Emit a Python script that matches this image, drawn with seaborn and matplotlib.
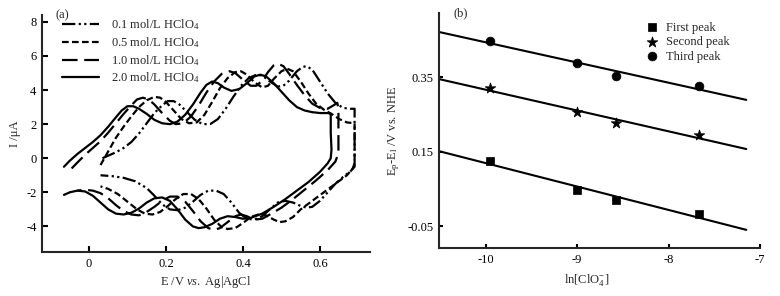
import numpy as np
import pandas as pd
import matplotlib
matplotlib.use("Agg")
import matplotlib.pyplot as plt
import seaborn as sns

# ---------------- data: panel (a) cyclic voltammograms ----------------
conc_labels = ["0.1 mol/L HClO$_4$", "0.5 mol/L HClO$_4$",
               "1.0 mol/L HClO$_4$", "2.0 mol/L HClO$_4$"]

# 0.1 mol/L (dash-dot-dot)
e_01 = [0.035, 0.05, 0.07, 0.09, 0.11, 0.13, 0.15, 0.17, 0.19, 0.205, 0.22, 0.235, 0.255, 0.275, 0.295,
        0.315, 0.335, 0.355, 0.375, 0.395, 0.415, 0.435, 0.45, 0.47, 0.49, 0.505, 0.52, 0.54, 0.555, 0.565,
        0.58, 0.60, 0.62, 0.64, 0.66, 0.68, 0.69, 0.69, 0.69, 0.69,
        0.68, 0.66, 0.64, 0.62, 0.60, 0.58, 0.565, 0.55, 0.53, 0.51, 0.49, 0.47, 0.45, 0.43, 0.41, 0.39,
        0.37, 0.35, 0.33, 0.31, 0.29, 0.27, 0.25, 0.23, 0.21, 0.19, 0.17, 0.15, 0.12, 0.09, 0.06, 0.03]
i_01 = [0.0, 0.15, 0.35, 0.6, 0.95, 1.45, 2.05, 2.65, 3.1, 3.35, 3.35, 3.15, 2.7, 2.25, 2.0,
        2.0, 2.3, 2.9, 3.6, 4.25, 4.7, 4.9, 4.85, 4.5, 4.2, 4.25, 4.55, 5.1, 5.35, 5.4,
        5.2, 4.5, 3.8, 3.25, 2.95, 2.9, 2.9, 1.5, 0.0, -0.5,
        -0.75, -1.1, -1.5, -2.0, -2.5, -2.85, -2.9, -2.8, -2.6, -2.5, -2.6, -3.0, -3.4, -3.6, -3.55, -3.2,
        -2.6, -2.1, -1.9, -1.9, -2.15, -2.55, -2.9, -3.05, -3.0, -2.7, -2.2, -1.75, -1.35, -1.15, -1.05, -1.0]

# 0.5 mol/L (short dashes)
e_05 = [0.03, 0.04, 0.055, 0.07, 0.09, 0.11, 0.13, 0.15, 0.17, 0.185, 0.20, 0.22, 0.24, 0.26, 0.28,
        0.30, 0.32, 0.34, 0.36, 0.38, 0.395, 0.41, 0.43, 0.45, 0.465, 0.48, 0.50, 0.515, 0.53, 0.55,
        0.57, 0.59, 0.61, 0.63, 0.65, 0.67, 0.69, 0.69, 0.69,
        0.685, 0.67, 0.64, 0.61, 0.58, 0.55, 0.53, 0.51, 0.495, 0.48, 0.46, 0.44, 0.42, 0.40, 0.38, 0.36,
        0.345, 0.325, 0.305, 0.285, 0.265, 0.245, 0.225, 0.205, 0.185, 0.165, 0.145, 0.125, 0.10, 0.075,
        0.05, 0.03]
i_05 = [-0.4, 0.0, 0.6, 1.2, 1.85, 2.45, 3.0, 3.4, 3.6, 3.55, 3.3, 2.8, 2.3, 2.05, 2.1,
        2.55, 3.3, 4.1, 4.7, 5.05, 5.1, 4.9, 4.45, 4.15, 4.25, 4.65, 5.1, 5.25, 5.1, 4.5,
        3.8, 3.2, 2.85, 2.6, 2.3, 2.1, 2.05, 1.0, -0.3,
        -0.6, -1.0, -1.5, -2.0, -2.5, -3.0, -3.45, -3.7, -3.75, -3.6, -3.35, -3.3, -3.45, -3.8, -4.1, -4.15,
        -4.05, -3.6, -2.95, -2.4, -2.1, -2.1, -2.4, -2.8, -3.15, -3.3, -3.25, -3.0, -2.55, -2.1,
        -1.8, -1.65]

# 1.0 mol/L (long dashes)
e_10 = [-0.045, -0.03, -0.01, 0.01, 0.03, 0.05, 0.07, 0.09, 0.11, 0.125, 0.14, 0.155, 0.17, 0.19, 0.21,
        0.225, 0.245, 0.265, 0.285, 0.305, 0.325, 0.345, 0.365, 0.38, 0.40, 0.42, 0.435, 0.45, 0.465,
        0.48, 0.49, 0.505, 0.52, 0.54, 0.56, 0.58, 0.60, 0.62, 0.635, 0.645, 0.648, 0.648, 0.648,
        0.64, 0.62, 0.59, 0.56, 0.53, 0.50, 0.47, 0.45, 0.43, 0.41, 0.395, 0.38, 0.36, 0.34, 0.325, 0.31,
        0.29, 0.27, 0.25, 0.23, 0.21, 0.19, 0.17, 0.15, 0.13, 0.11, 0.09, 0.07, 0.05, 0.03, 0.01, -0.01,
        -0.03]
i_10 = [-0.6, -0.25, 0.2, 0.6, 1.0, 1.5, 2.05, 2.6, 3.1, 3.45, 3.55, 3.45, 3.15, 2.65, 2.2,
        2.0, 2.05, 2.45, 3.1, 3.85, 4.5, 4.95, 5.1, 5.0, 4.6, 4.25, 4.25, 4.55, 5.05,
        5.45, 5.55, 5.4, 4.95, 4.3, 3.7, 3.2, 2.95, 2.9, 3.1, 3.25, 2.9, 1.5, 0.3,
        -0.2, -0.7, -1.3, -1.85, -2.4, -2.9, -3.3, -3.55, -3.6, -3.4, -3.3, -3.4, -3.75, -4.1, -4.2, -4.1,
        -3.7, -3.1, -2.55, -2.25, -2.25, -2.5, -2.85, -3.15, -3.35, -3.3, -3.1, -2.75, -2.35, -2.05, -1.9,
        -1.85, -1.9]

# 2.0 mol/L (solid)
e_20 = [-0.065, -0.05, -0.03, -0.01, 0.01, 0.03, 0.05, 0.07, 0.085, 0.10, 0.115, 0.13, 0.15, 0.17, 0.19,
        0.21, 0.23, 0.25, 0.27, 0.29, 0.305, 0.32, 0.335, 0.35, 0.37, 0.39, 0.41, 0.43, 0.445, 0.46,
        0.48, 0.50, 0.52, 0.54, 0.56, 0.58, 0.60, 0.62, 0.628, 0.628, 0.63, 0.628,
        0.62, 0.60, 0.57, 0.54, 0.51, 0.48, 0.45, 0.42, 0.40, 0.38, 0.36, 0.34, 0.32, 0.30, 0.285, 0.27,
        0.25, 0.23, 0.21, 0.19, 0.17, 0.15, 0.13, 0.11, 0.09, 0.07, 0.05, 0.03, 0.01, -0.01, -0.03, -0.05,
        -0.065]
i_20 = [-0.5, -0.15, 0.25, 0.6, 0.95, 1.35, 1.85, 2.4, 2.8, 3.05, 3.05, 2.9, 2.6, 2.25, 2.05,
        2.0, 2.15, 2.55, 3.15, 3.85, 4.3, 4.5, 4.4, 4.15, 3.95, 4.05, 4.4, 4.8, 4.9, 4.8,
        4.4, 3.9, 3.4, 3.0, 2.8, 2.7, 2.65, 2.65, 2.6, 1.5, 0.5, 0.0,
        -0.3, -0.8, -1.4, -1.9, -2.4, -2.85, -3.25, -3.5, -3.55, -3.45, -3.4, -3.55, -3.85, -4.05, -4.1, -4.0,
        -3.6, -3.0, -2.5, -2.3, -2.35, -2.6, -2.95, -3.2, -3.3, -3.25, -3.0, -2.6, -2.2, -1.95, -1.9, -2.0,
        -2.15]

# ---------------- data: panel (b) ----------------
ln_clo4 = [-9.95, -9.0, -8.58, -7.67]
first_peak = [0.124, 0.048, 0.021, -0.019]
second_peak = [0.320, 0.256, 0.226, 0.194]
third_peak = [0.447, 0.388, 0.352, 0.326]
peak_names = ["First peak", "Second peak", "Third peak"]
fit_range = [-10.5, -7.15]

# ---------------- style ----------------
sns.set_theme(style="ticks")
plt.rcParams["font.family"] = ["Liberation Serif", "DejaVu Serif"]
plt.rcParams["mathtext.fontset"] = "custom"
plt.rcParams["mathtext.rm"] = "Liberation Serif"
plt.rcParams["mathtext.it"] = "Liberation Serif:italic"
plt.rcParams["font.size"] = 9
plt.rcParams["axes.linewidth"] = 1.5
plt.rcParams["axes.unicode_minus"] = False
plt.rcParams["xtick.direction"] = "in"
plt.rcParams["ytick.direction"] = "in"

fig = plt.figure(figsize=(7.8, 2.96), dpi=100)
ax1 = fig.add_axes([42/780, 1-252/296, 328/780, 237/296])
ax2 = fig.add_axes([439/780, 1-248/296, 321/780, 235/296])

styles = [(0, (6, 1.5, 1, 1.5, 1, 1.5)), (0, (3, 1.5)), (0, (7, 3)), "-"]
curves = [(e_01, i_01), (e_05, i_05), (e_10, i_10), (e_20, i_20)]
for (e, i), lab, ls in zip(curves, conc_labels, styles):
    sns.lineplot(x=e, y=i, sort=False, estimator=None, color="black", lw=1.6,
                 linestyle=ls, label=lab, ax=ax1)

ax1.set_xlim(-0.122, 0.73)
ax1.set_ylim(-5.5, 8.4)
ax1.set_xticks([0, 0.2, 0.4, 0.6])
ax1.set_xticklabels(["0", "0.2", "0.4", "0.6"])
ax1.set_yticks([-4, -2, 0, 2, 4, 6, 8])
ax1.tick_params(length=4, width=1.5, labelsize=9, colors="black", pad=4)
ax1.set_xlabel("E /V $\\it{vs.}$ Ag|AgCl", fontsize=9, labelpad=3)
ax1.set_ylabel("I /μA", fontsize=9, labelpad=4)
sns.despine(ax=ax1)
ax1.legend(loc="upper left", bbox_to_anchor=(0.045, 1.01), frameon=False, fontsize=9,
           handlelength=3.0, labelspacing=0.23, handletextpad=0.9, borderaxespad=0)
ax1.text(0.04, 1.0, "(a)", transform=ax1.transAxes, fontsize=9, va="center", ha="left")

# panel (b)
markers = ["s", "*", "o"]
sizes = [40, 65, 40]
for ys, name, mk, sz in zip([first_peak, second_peak, third_peak], peak_names, markers, sizes):
    sns.scatterplot(x=ln_clo4, y=ys, marker=mk, s=sz, color="black", edgecolor="black",
                    linewidth=0.5, label=name, ax=ax2, zorder=3)
    coef = np.polyfit(ln_clo4, ys, 1)
    xs = np.array(fit_range)
    sns.lineplot(x=xs, y=np.polyval(coef, xs), color="black", lw=1.5, ax=ax2)

ax2.set_xlim(-10.51, -7.0)
ax2.set_ylim(-0.109, 0.522)
ax2.set_xticks([-10, -9, -8, -7])
ax2.set_yticks([-0.05, 0.15, 0.35])
ax2.set_yticklabels(["-0.05", "0.15", "0.35"])
ax2.set_xticklabels(["-10", "-9", "-8", "-7"])
ax2.tick_params(length=3, width=1.5, labelsize=9, colors="black", pad=4)
ax2.set_xlabel("ln[ClO$_4^{-}$]", fontsize=9, labelpad=3)
ax2.set_ylabel("E$_\\mathrm{p}$-E$_\\mathrm{l}$ /V vs. NHE", fontsize=9, labelpad=4)
ax2.xaxis.set_label_coords(0.46, -0.1)
sns.despine(ax=ax2)
h, l = ax2.get_legend_handles_labels()
ax2.legend(h[:3], l[:3], loc="upper left", bbox_to_anchor=(0.628, 0.985), frameon=False, fontsize=9,
           handlelength=1.0, labelspacing=0.2, handletextpad=0.6, borderaxespad=0)
ax2.text(0.045, 1.0, "(b)", transform=ax2.transAxes, fontsize=9, va="center", ha="left")

fig.savefig("out.png", dpi=100)
